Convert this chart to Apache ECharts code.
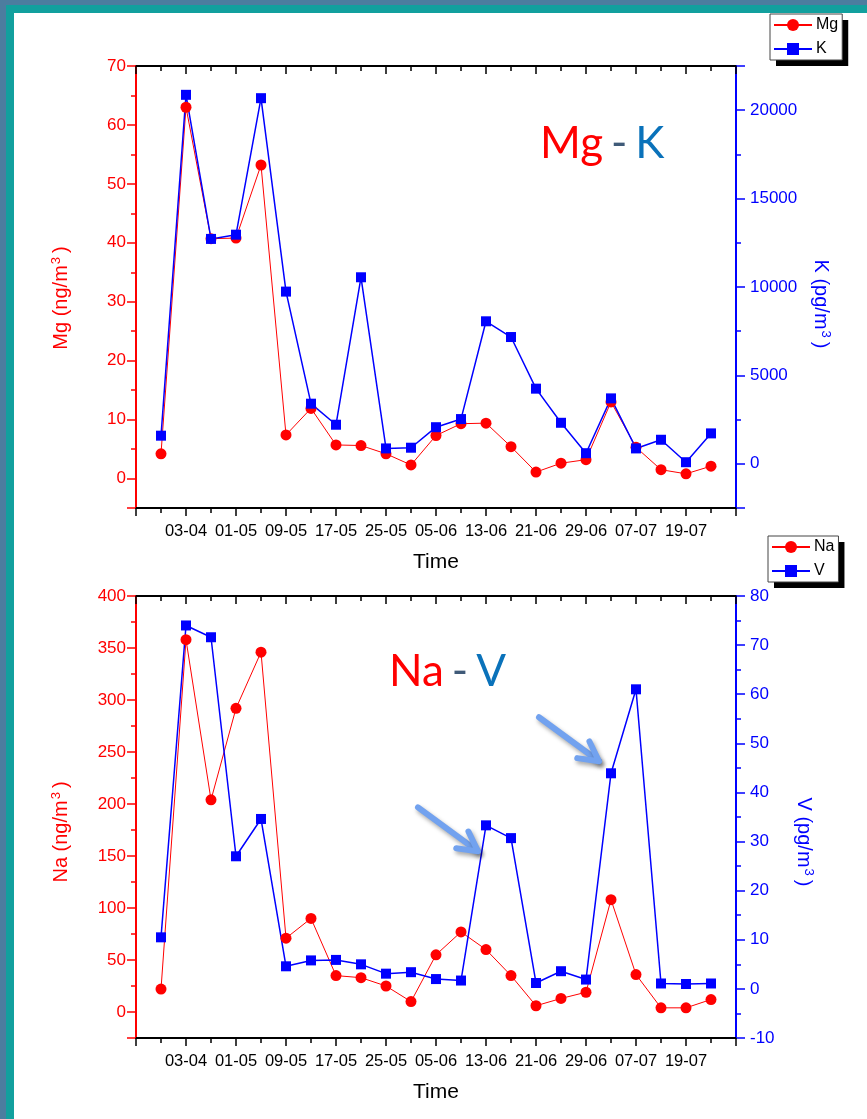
<!DOCTYPE html>
<html>
<head>
<meta charset="utf-8">
<script src="https://cdn.jsdelivr.net/npm/echarts@6/dist/echarts.min.js"></script>
<style>
  html, body { margin: 0; padding: 0; width: 867px; height: 1119px; overflow: hidden; background: #4c7d9f; }
  #teal { position: absolute; left: 6px; top: 5px; right: 0; bottom: 0; background: #12a09e; }
  #panel { position: absolute; left: 14px; top: 13px; right: 0; bottom: 0; background: #ffffff; }
  #chart { position: absolute; left: 0; top: 0; width: 867px; height: 1119px; }
</style>
</head>
<body>
<div id="teal"></div>
<div id="panel"></div>
<div id="chart"></div>
<script>
// ---- data ----
const xTickLabels = ['03-04','01-05','09-05','17-05','25-05','05-06','13-06','21-06','29-06','07-07','19-07'];
const mgValues = [4.2, 63.0, 40.7, 40.8, 53.2, 7.4, 11.9, 5.7, 5.6, 4.2, 2.3, 7.3, 9.3, 9.4, 5.4, 1.1, 2.6, 3.2, 13.0, 5.3, 1.5, 0.8, 2.1];
const kValues = [1590, 20870, 12720, 12960, 20680, 9740, 3400, 2210, 10550, 870, 910, 2070, 2530, 8060, 7170, 4250, 2320, 600, 3700, 870, 1360, 90, 1720];
const naValues = [22, 358, 204, 292, 346, 71, 90, 35, 33, 25, 10, 55, 77, 60, 35, 6, 13, 19, 108, 36, 4, 4, 12];
const vValues = [10.5, 74.0, 71.6, 27.0, 34.6, 4.6, 5.8, 5.9, 5.0, 3.1, 3.4, 2.0, 1.7, 33.3, 30.7, 1.2, 3.6, 1.9, 43.9, 61.0, 1.1, 1.0, 1.1];

const FONT = 'Liberation Sans';
const toXY = arr => arr.map((v, i) => [i + 1, v]);

function xAxisPair(gridIndex) {
  const common = {
    gridIndex, type: 'value', min: 0, max: 24, interval: 2,
    splitLine: { show: false }, minorSplitLine: { show: false },
    axisLine: { onZero: false, lineStyle: { color: '#000', width: 2 } },
  };
  return [
    Object.assign({}, common, {
      position: 'bottom',
      axisTick: { length: 8, lineStyle: { color: '#000', width: 1.5 } },
      minorTick: { show: true, splitNumber: 2, length: 5, lineStyle: { color: '#000', width: 1.5 } },
      axisLabel: {
        margin: 15, fontSize: 16.5, fontFamily: FONT, color: '#000',
        formatter: v => (v >= 2 && v <= 22) ? xTickLabels[v / 2 - 1] : ''
      },
      name: 'Time', nameLocation: 'middle', nameGap: 44,
      nameTextStyle: { fontSize: 21, fontFamily: FONT, color: '#000' }
    }),
    Object.assign({}, common, {
      position: 'top',
      axisTick: { inside: true, length: 8, lineStyle: { color: '#000', width: 1.5 } },
      minorTick: { show: true, splitNumber: 2, length: 5, lineStyle: { color: '#000', width: 1.5 } },
      axisLabel: { show: false }
    })
  ];
}

function yAxis(gridIndex, pos, color, extra) {
  return Object.assign({
    gridIndex, type: 'value', position: pos,
    splitLine: { show: false }, minorSplitLine: { show: false },
    axisLine: { show: true, onZero: false, lineStyle: { color, width: 2 } },
    axisTick: { show: true, length: 9, lineStyle: { color, width: 1.5 } },
    minorTick: { show: true, splitNumber: 2, length: 5, lineStyle: { color, width: 1.5 } },
    nameLocation: 'middle', nameRotate: pos === 'left' ? 90 : -90,
  }, extra);
}

const labelStyle = (color, step, margin) => ({
  margin, fontSize: 17, fontFamily: FONT, color,
  formatter: v => (v >= 0 && Math.abs(v % step) < 1e-9) ? String(v) : ''
});

function unitName(el, unit) {
  return '{a|' + el + ' (' + unit + '/m}{s|3}{a|)}';
}
function nameStyle(color, padding) {
  return {
    color, padding,
    rich: {
      a: { fontSize: 20, fontFamily: FONT, color, lineHeight: 22 },
      s: { fontSize: 13, fontFamily: FONT, color, lineHeight: 13, verticalAlign: 'top', padding: [0, 4, 0, 1] }
    }
  };
}

function titleRich() {
  return { rich: {
    r: { color: '#ff0000', fontSize: 44, fontFamily: 'Lato', fontWeight: 'normal' },
    d: { color: '#3f5a78', fontSize: 44, fontFamily: 'Lato', fontWeight: 'normal', padding: [0, 3, 0, 3] },
    b: { color: '#0a72ba', fontSize: 44, fontFamily: 'Lato', fontWeight: 'normal' }
  } };
}

// legend box + a solid black drop shadow (a second, identical, invisible-content legend offset by 6px)
function legendCfg(names, left, top, isShadow) {
  const cfg = {
    data: names, orient: 'vertical', left, top, selectedMode: false,
    itemWidth: 38, itemHeight: 15, itemGap: 8, padding: [3, 4, 3, 3],
    textStyle: { fontSize: 16, fontFamily: FONT, color: '#000', padding: [0, 0, 0, -1] }
  };
  if (isShadow) {
    Object.assign(cfg, {
      left: left + 6, top: top + 6, backgroundColor: '#000', borderWidth: 0,
      itemStyle: { opacity: 0 }, lineStyle: { opacity: 0 },
      textStyle: Object.assign({}, cfg.textStyle, { color: 'rgba(0,0,0,0)' })
    });
  } else {
    Object.assign(cfg, { backgroundColor: '#fff', borderColor: '#444', borderWidth: 1 });
  }
  return cfg;
}

const option = {
  animation: false,
  backgroundColor: 'transparent',
  grid: [
    { left: 136, top: 66, width: 600, height: 442 },
    { left: 136, top: 596, width: 600, height: 442 }
  ],
  title: [
    { left: 540, top: 122, padding: 0, text: '{r|Mg} {d|-} {b|K}', textStyle: titleRich() },
    { left: 389, top: 650, padding: 0, text: '{r|Na} {d|-} {b|V}', textStyle: titleRich() }
  ],
  legend: [
    legendCfg(['Mg', 'K'], 770, 14, true),
    legendCfg(['Mg', 'K'], 770, 14, false),
    legendCfg(['Na', 'V'], 768, 536, true),
    legendCfg(['Na', 'V'], 768, 536, false)
  ],
  xAxis: [].concat(xAxisPair(0), xAxisPair(1)),
  yAxis: [
    yAxis(0, 'left', '#ff0000', {
      min: -5, max: 70, splitNumber: 8,
      axisLabel: labelStyle('#ff0000', 10, 10),
      name: unitName('Mg', 'ng'), nameGap: 64,
      nameTextStyle: nameStyle('#ff0000', [0, 22, 0, 0])
    }),
    yAxis(0, 'right', '#0000ff', {
      min: -2500, max: 22500, splitNumber: 5,
      axisLabel: labelStyle('#0000ff', 5000, 14),
      name: unitName('K', 'pg'), nameGap: 74,
      nameTextStyle: nameStyle('#0000ff', [0, 0, 0, 34])
    }),
    yAxis(1, 'left', '#ff0000', {
      min: -25, max: 400, splitNumber: 8,
      axisLabel: labelStyle('#ff0000', 50, 10),
      name: unitName('Na', 'ng'), nameGap: 64,
      nameTextStyle: nameStyle('#ff0000', [0, 30, 0, 0])
    }),
    yAxis(1, 'right', '#0000ff', {
      min: -10, max: 80, interval: 10,
      axisLabel: { margin: 14, fontSize: 17, fontFamily: FONT, color: '#0000ff' },
      name: unitName('V', 'pg'), nameGap: 57,
      nameTextStyle: nameStyle('#0000ff', [0, 0, 0, 50])
    })
  ],
  series: [
    { name: 'Mg', type: 'line', xAxisIndex: 0, yAxisIndex: 0, data: toXY(mgValues),
      symbol: 'circle', symbolSize: 11, color: '#ff0000',
      lineStyle: { width: 1, color: '#ff0000' }, itemStyle: { color: '#ff0000' } },
    { name: 'K', type: 'line', xAxisIndex: 0, yAxisIndex: 1, data: toXY(kValues),
      symbol: 'rect', symbolSize: 10, color: '#0000ff',
      lineStyle: { width: 1.5, color: '#0000ff' }, itemStyle: { color: '#0000ff' } },
    { name: 'Na', type: 'line', xAxisIndex: 2, yAxisIndex: 2, data: toXY(naValues),
      symbol: 'circle', symbolSize: 11, color: '#ff0000',
      lineStyle: { width: 1, color: '#ff0000' }, itemStyle: { color: '#ff0000' } },
    { name: 'V', type: 'line', xAxisIndex: 2, yAxisIndex: 3, data: toXY(vValues),
      symbol: 'rect', symbolSize: 10, color: '#0000ff',
      lineStyle: { width: 1.5, color: '#0000ff' }, itemStyle: { color: '#0000ff' } }
  ]
};

const chart = echarts.init(document.getElementById('chart'), null, { renderer: 'canvas' });
chart.setOption(option);

// Annotation arrows pointing at two V peaks (anchored to data points)
function arrowTo(tip) {
  const dx = 60, dy = 44;
  const len = Math.hypot(dx, dy);
  const ux = dx / len, uy = dy / len;
  const start = [tip[0] - dx, tip[1] - dy];
  const arm = 22, ang = 28 * Math.PI / 180;
  const bx = -ux, by = -uy;
  const rot = a => [tip[0] + arm * (bx * Math.cos(a) - by * Math.sin(a)), tip[1] + arm * (bx * Math.sin(a) + by * Math.cos(a))];
  const style = { stroke: '#72a2ef', lineWidth: 6, lineCap: 'round', lineJoin: 'round', fill: null,
    shadowColor: 'rgba(0,0,0,0.35)', shadowBlur: 4, shadowOffsetX: 2, shadowOffsetY: 3 };
  return [
    { type: 'polyline', shape: { points: [start, tip] }, style, z: 100 },
    { type: 'polyline', shape: { points: [rot(ang), tip, rot(-ang)] }, style, z: 100 }
  ];
}
const p1 = chart.convertToPixel({ seriesIndex: 3 }, [14, vValues[13]]);
const p2 = chart.convertToPixel({ seriesIndex: 3 }, [19, vValues[18]]);
chart.setOption({
  graphic: [].concat(
    arrowTo([p1[0] - 8, p1[1] + 26]),
    arrowTo([p2[0] - 12, p2[1] - 12])
  )
});
</script>
</body>
</html>
